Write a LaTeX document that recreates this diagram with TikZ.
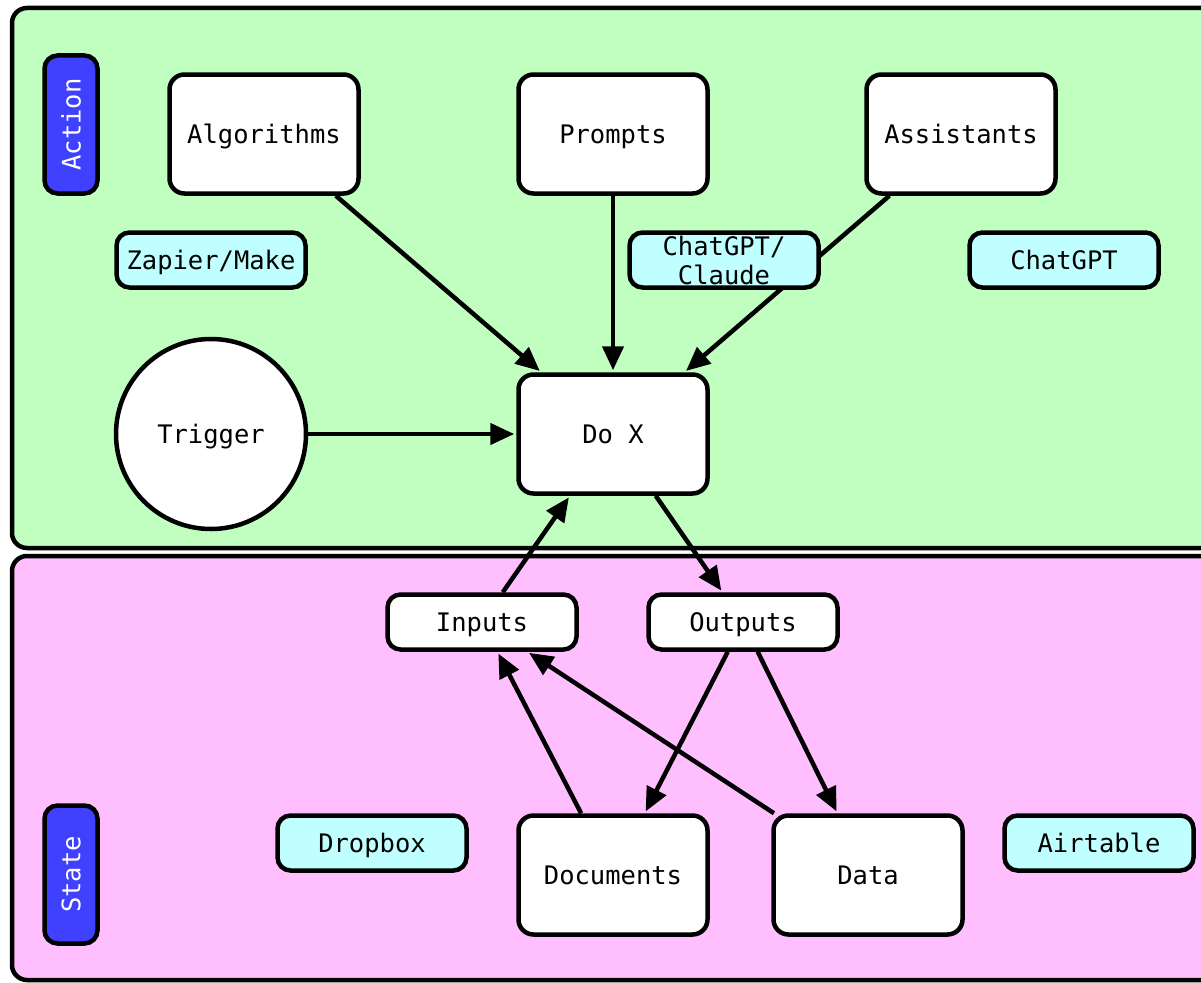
\documentclass[tikz,border=0pt]{standalone}
\usepackage{fontspec}
\setmonofont{DejaVu Sans Mono}
\usetikzlibrary{arrows.meta}

\definecolor{actiongreen}{HTML}{C0FFC0}
\definecolor{statepink}{HTML}{FFBFFF}
\definecolor{toolcyan}{HTML}{C0FFFF}
\definecolor{tagblue}{HTML}{4040FF}

\begin{document}
\begin{tikzpicture}[x=1pt,y=1pt,yscale=-1,xscale=1,
	every node/.style={font=\ttfamily\fontsize{25.5}{29}\selectfont},
	panel/.style={draw, line width=4.5pt, rounded corners=15pt},
	bigbox/.style={draw, fill=white, line width=4.5pt, rounded corners=15pt, minimum width=189pt, minimum height=119pt, inner sep=0pt, text height=24pt, text depth=5.4pt},
	smallbox/.style={draw, fill=white, line width=4.5pt, rounded corners=13pt, minimum width=189pt, minimum height=55pt, inner sep=0pt, text height=24pt, text depth=5.4pt},
	toolbox/.style={smallbox, fill=toolcyan, align=center},
	tagbox/.style={draw, fill=tagblue, text=white, line width=4.5pt, rounded corners=13pt, rotate=90, minimum width=138pt, minimum height=53pt, inner sep=0pt},
	flow/.style={line width=4.5pt, -{Triangle[length=24pt, width=21pt]}, shorten >=2pt}]
	\clip (0,0) rectangle (1201,982);
	
	%Shape: Panels
	\draw [panel, fill=actiongreen] (12,8) rectangle (1230,548) ;
	\draw [panel, fill=statepink] (12,556) rectangle (1230,980) ;
	
	% Tags
	\node [tagbox] (action) at (71,124.5) {Action};
	\node [tagbox] (state) at (71,874.5) {State};
	
	% Action layer
	\node [bigbox] (algorithms) at (264,134) {Algorithms};
	\node [bigbox] (prompts) at (613,134) {Prompts};
	\node [bigbox] (assistants) at (961,134) {Assistants};
	\node [toolbox] (zapier) at (211,260) {Zapier/Make};
	\node [toolbox] (chatgpt) at (1064,260) {ChatGPT};
	\node [draw, fill=white, line width=4.5pt, circle, minimum size=190pt, inner sep=0pt, text height=24pt, text depth=5.4pt] (trigger) at (211,434) {Trigger};
	\node [bigbox] (dox) at (613,434) {Do X};
	
	% State layer
	\node [smallbox] (inputs) at (482,622) {Inputs};
	\node [smallbox] (outputs) at (743,622) {Outputs};
	\node [toolbox] (dropbox) at (372,843) {Dropbox};
	\node [bigbox] (documents) at (613,875) {Documents};
	\node [bigbox] (data) at (868,875) {Data};
	\node [toolbox] (airtable) at (1099,843) {Airtable};
	
	%Straight Lines
	\draw [flow] (algorithms) -- (dox) ;
	\draw [flow] (prompts) -- (dox) ;
	\draw [flow] (assistants) -- (dox) ;
	\draw [flow] (trigger) -- (dox) ;
	\draw [flow] (inputs) -- (dox) ;
	\draw [flow] (dox) -- (outputs) ;
	\draw [flow] (outputs) -- (documents) ;
	\draw [flow] (outputs) -- (data) ;
	\draw [flow] (documents) -- (inputs) ;
	\draw [flow] (data) -- (inputs) ;
	
	% sits over the Assistants line
	\node [toolbox, text height=, text depth=] (chatclaude) at (724,260) {ChatGPT/\\Claude};
	
\end{tikzpicture}
\end{document}
